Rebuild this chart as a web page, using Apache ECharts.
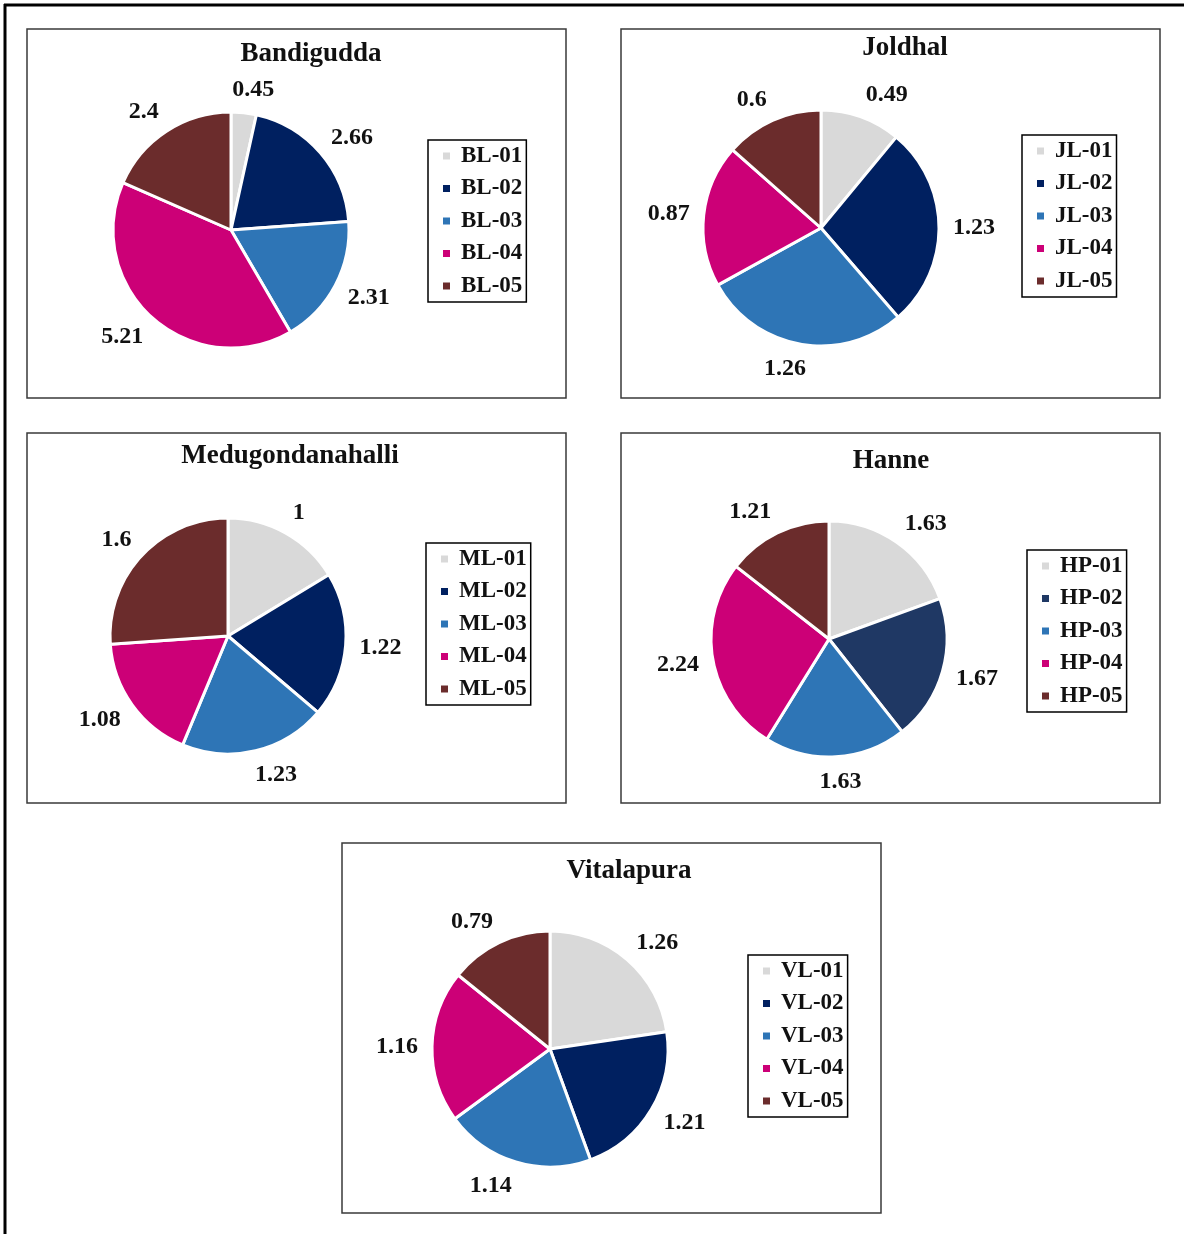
<!DOCTYPE html>
<html><head><meta charset="utf-8">
<script src="https://cdn.jsdelivr.net/npm/echarts@6/dist/echarts.min.js"></script>
<style>html,body{margin:0;padding:0;background:#fff}#c{width:1184px;height:1234px}</style>
</head><body><div id="c"></div>
<script>
// ---- data ----
const panelTitles = ['Bandigudda', 'Joldhal', 'Medugondanahalli', 'Hanne', 'Vitalapura'];
const bandiguddaNames = ['BL-01', 'BL-02', 'BL-03', 'BL-04', 'BL-05'];
const bandiguddaValues = [0.45, 2.66, 2.31, 5.21, 2.4];
const joldhalNames = ['JL-01', 'JL-02', 'JL-03', 'JL-04', 'JL-05'];
const joldhalValues = [0.49, 1.23, 1.26, 0.87, 0.6];
const medugondanahalliNames = ['ML-01', 'ML-02', 'ML-03', 'ML-04', 'ML-05'];
const medugondanahalliValues = [1, 1.22, 1.23, 1.08, 1.6];
const hanneNames = ['HP-01', 'HP-02', 'HP-03', 'HP-04', 'HP-05'];
const hanneValues = [1.63, 1.67, 1.63, 2.24, 1.21];
const vitalapuraNames = ['VL-01', 'VL-02', 'VL-03', 'VL-04', 'VL-05'];
const vitalapuraValues = [1.26, 1.21, 1.14, 1.16, 0.79];

const sliceColors = ['#D9D9D9', '#002060', '#2E75B6', '#CC0077', '#6B2C2C'];
const hanneColors = ['#D9D9D9', '#1F3864', '#2E75B6', '#CC0077', '#6B2C2C'];

// ---- layout ----
const FONT = '"Liberation Serif", "Times New Roman", serif';
const RADIUS = 118;
const LABEL_GAP = 14;
const panels = [
  {names: bandiguddaNames, values: bandiguddaValues, colors: sliceColors,
   frame: [27, 29, 539, 369], center: [231, 230], title: [311, 54], legend: [428, 140]},
  {names: joldhalNames, values: joldhalValues, colors: sliceColors,
   frame: [621, 29, 539, 369], center: [821, 228], title: [905, 48], legend: [1022, 135]},
  {names: medugondanahalliNames, values: medugondanahalliValues, colors: sliceColors,
   frame: [27, 433, 539, 370], center: [228, 636], title: [290, 456], legend: [426, 543]},
  {names: hanneNames, values: hanneValues, colors: hanneColors,
   frame: [621, 433, 539, 370], center: [829, 639], title: [891, 461], legend: [1027, 550]},
  {names: vitalapuraNames, values: vitalapuraValues, colors: sliceColors,
   frame: [342, 843, 539, 370], center: [550, 1049], title: [629, 871], legend: [748, 955]}
];

// Excel-like "best fit" label: box placed just outside the slice along its mid-angle
function midDirection(values, idx) {
  const total = values.reduce((a, b) => a + b, 0);
  let before = 0;
  for (let k = 0; k < idx; k++) before += values[k];
  const frac = (before + values[idx] / 2) / total;
  const ang = frac * 2 * Math.PI; // clockwise from 12 o'clock
  return [Math.sin(ang), -Math.cos(ang)];
}

const graphics = [
  {type: 'line', shape: {x1: 4, y1: 5, x2: 1184, y2: 5}, style: {stroke: '#000', lineWidth: 3}},
  {type: 'line', shape: {x1: 5, y1: 4, x2: 5, y2: 1234}, style: {stroke: '#000', lineWidth: 3}}
];
const series = [];
const legends = [];

panels.forEach((p, i) => {
  graphics.push({type: 'rect', shape: {x: p.frame[0], y: p.frame[1], width: p.frame[2], height: p.frame[3]},
    style: {fill: 'none', stroke: '#3a3a3a', lineWidth: 1.5}, z: 0});
  graphics.push({type: 'text', x: p.title[0], y: p.title[1],
    style: {text: panelTitles[i], textAlign: 'center', textVerticalAlign: 'middle',
      font: 'bold 27px ' + FONT, fill: '#111'}});
  series.push({
    type: 'pie',
    name: panelTitles[i],
    center: p.center,
    radius: RADIUS,
    startAngle: 90,
    clockwise: true,
    avoidLabelOverlap: false,
    animation: false,
    itemStyle: {borderColor: '#fff', borderWidth: 3},
    label: {show: true, position: 'outside', formatter: (d) => String(d.value),
      fontFamily: FONT, fontWeight: 'bold', fontSize: 24, color: '#111'},
    labelLine: {show: false, length: 15, length2: 0},
    labelLayout: (params) => {
      const d = midDirection(p.values, params.dataIndex);
      const hw = params.labelRect.width / 2;
      const hh = params.labelRect.height / 2;
      const R0 = RADIUS + LABEL_GAP;
      const fx = Math.min(1, 3.5 * Math.abs(d[0]));
      return {
        x: p.center[0] + d[0] * R0 + Math.sign(d[0]) * hw * fx,
        y: p.center[1] + d[1] * (R0 + hh * 0.85) + 1,
        align: 'center', verticalAlign: 'middle'
      };
    },
    emphasis: {disabled: true},
    data: p.names.map((n, k) => ({name: n, value: p.values[k], itemStyle: {color: p.colors[k]}}))
  });
  legends.push({
    orient: 'vertical',
    left: p.legend[0], top: p.legend[1],
    data: p.names,
    selectedMode: false,
    icon: 'rect',
    itemWidth: 9, itemHeight: 9, itemGap: 8.5,
    padding: [4, 4, 4, 13],
    borderColor: '#000', borderWidth: 1.5,
    textStyle: {fontFamily: FONT, fontWeight: 'bold', fontSize: 23, color: '#111', lineHeight: 24,
      padding: [0, 0, 0, 5]}
  });
});

const chart = echarts.init(document.getElementById('c'));
chart.setOption({
  backgroundColor: '#fff',
  animation: false,
  graphic: graphics,
  legend: legends,
  series: series
});
</script>
</body></html>
